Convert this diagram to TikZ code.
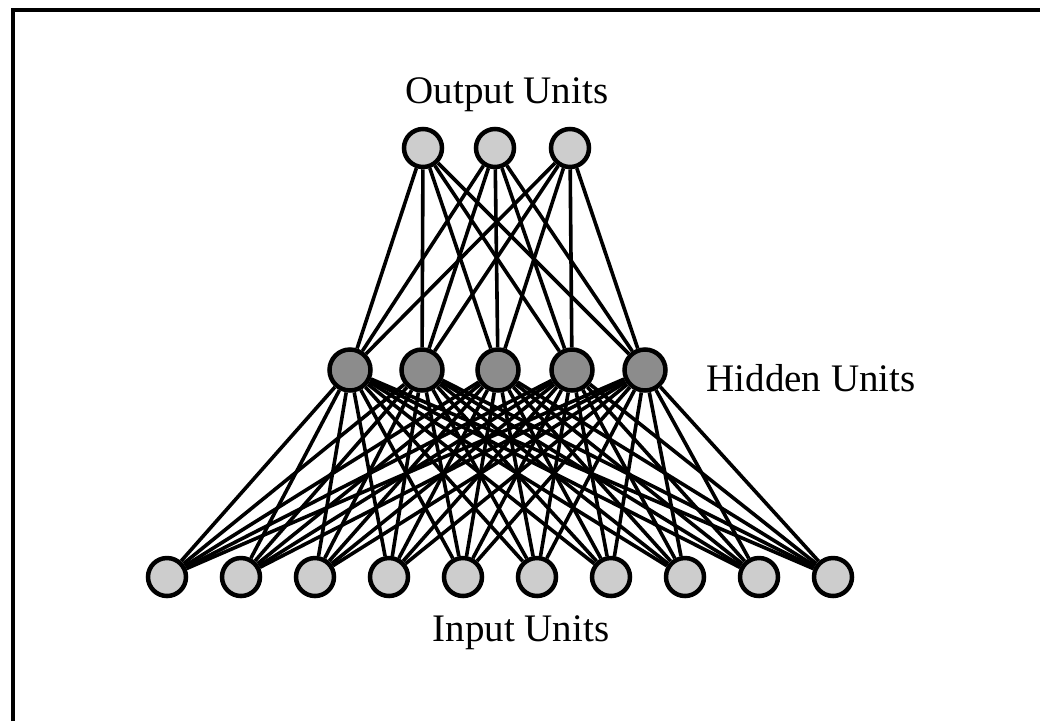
\documentclass[tikz,border=0pt]{standalone}
\usepackage{fontspec}
\setmainfont{Liberation Serif}
\usepackage{tikz}
\definecolor{unitgray}{RGB}{205,205,205}
\definecolor{hiddengray}{RGB}{140,140,140}

\begin{document}
\begin{tikzpicture}[x=1pt, y=-1pt,
    unit/.style={draw, circle, line width=4.5pt, minimum size=38pt, inner sep=0pt, fill=unitgray},
    hunit/.style={unit, minimum size=41pt, fill=hiddengray},
    link/.style={line width=3.6pt},
    lbl/.style={font=\fontsize{39}{44}\selectfont}]
\useasboundingbox (0,0) rectangle (1040,721);
% Frame, only top and left side
\draw[line width=3.5pt] (13,721) -- (13,10) -- (1040,10);

% Create nodes for the three layers
\foreach \i [count=\n] in {423,495,570}
  \node[unit] (o\n) at (\i,148) {};
\foreach \i [count=\n] in {350,422,498,572,645}
  \node[hunit] (h\n) at (\i,370) {};
\foreach \n in {1,...,10}
  \node[unit] (i\n) at ({167+74*(\n-1)},577) {};

% Labels
\node[lbl] (outlbl) at (507,95) {Output Units};
\node[lbl, anchor=west] (hidlbl) at (703,378) {Hidden Units};
\node[lbl] (inlbl) at (521,633) {Input Units};

% Add connections
\foreach \h in {1,...,5} {
  \foreach \o in {1,2,3}
    \draw[link] (h\h) -- (o\o);
  \foreach \i in {1,...,10}
    \draw[link] (i\i) -- (h\h);
}
\end{tikzpicture}
\end{document}
